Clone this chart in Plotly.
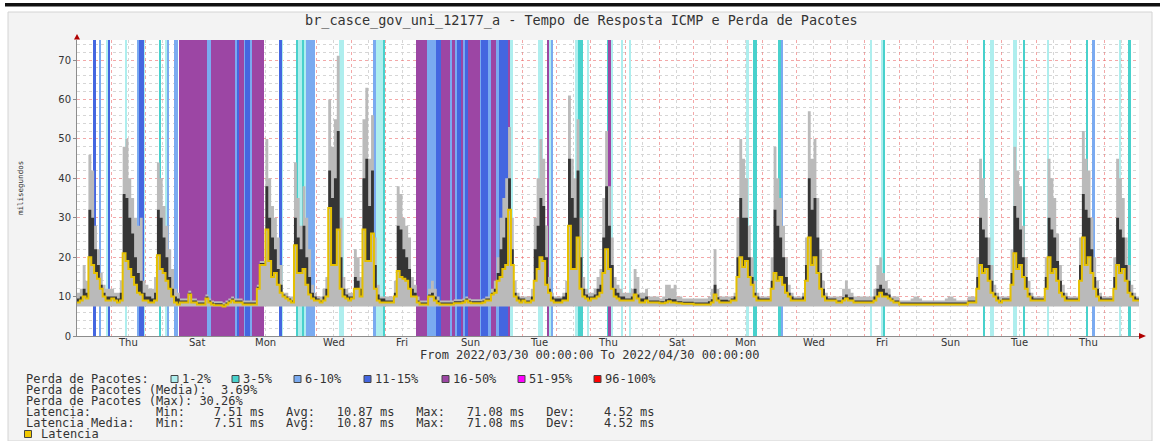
import plotly.graph_objects as go
import pandas as pd

START = pd.Timestamp("2022-03-30 00:00:00")
END = pd.Timestamp("2022-04-30 00:00:00")
STEP_H = 2
PING_MIN = 7.51
Y_TOP = 75.1

# median latency (ms), 2-hour steps, one line per day (Mar 30 .. Apr 29)
latency_median = [
    8.5, 9, 10, 9.5, 20, 18, 16, 14.5, 12, 10, 9, 9,
    9.5, 9, 8.5, 9, 21, 19, 17, 15, 13, 11, 10.5, 9,
    9, 8.5, 8.5, 9, 20.5, 17, 16, 14, 12, 10, 8.5, 8,
    8.5, 8.5, 8.5, 10.5, 8.5, 8.5, 8, 8, 8, 9.5, 8.5, 8,
    7.8, 7.8, 7.8, 7.5, 8, 8.5, 9, 8.5, 8.5, 8.5, 8, 8,
    8, 8, 8, 12, 18, 18, 27, 19, 15, 16, 13, 11,
    10, 9.5, 9, 8.5, 23, 16, 16, 17, 13, 10.5, 9.5, 9,
    9, 8.5, 9, 10, 32.5, 18, 18, 27, 12, 10, 9.5, 9,
    9.5, 12, 12, 10, 27, 19, 19, 26, 12, 9, 8.5, 8.5,
    8.5, 8.5, 8.5, 10, 16.5, 15, 14.5, 14, 12, 10, 10, 8.5,
    8, 8, 8, 10, 10, 9, 8.3, 8, 8, 8, 8, 8,
    8.3, 8.3, 8.3, 8.5, 9, 8.5, 8.3, 8.3, 8.3, 8.3, 8.5, 9,
    9, 10.5, 11, 14, 15, 17, 18, 32, 18, 10, 9, 8.5,
    9, 8.5, 8.5, 9, 14, 17, 20, 19, 13, 11, 9, 8.5,
    8.5, 8.5, 9, 9, 28, 17, 17, 25, 12, 10, 9.5, 9,
    9.5, 9.5, 10, 11, 16, 22, 17, 12, 10, 9.5, 9, 9,
    9, 9, 9, 10.5, 9.5, 8.5, 8.5, 9, 8.5, 8.5, 8.5, 8.5,
    8.3, 8.3, 8.5, 8.8, 8.5, 8.5, 8.3, 8.3, 8.2, 8.2, 8.2, 8.2,
    8, 8, 8, 8, 8, 8, 8.5, 10.5, 9, 8.5, 8.5, 8.5,
    8.5, 9, 9, 15, 20, 17.5, 19, 15, 13, 10, 9, 9,
    9, 9, 9, 12, 16, 14, 15, 13, 11, 10, 9, 9,
    9, 9, 9, 14, 25, 18, 20, 16, 12, 10, 9, 9,
    9, 9, 8.5, 8.5, 9, 9.5, 9, 9, 8.5, 8.5, 8.5, 8.5,
    8.5, 8.5, 8.5, 9, 10, 11, 10, 10, 9.5, 9, 8.5, 8.5,
    8, 8, 8, 8, 8, 8, 8, 8, 8, 8, 8, 8,
    8, 8, 8, 8, 8, 8, 8, 8, 8, 8, 8, 8,
    8.5, 8.5, 8.5, 12, 18, 16, 17, 14, 11, 10, 9, 8.5,
    9, 9, 9, 13, 21, 17, 18, 15, 12, 10, 9, 9,
    9, 9, 9, 12, 20, 16, 17, 14, 11, 10, 9, 9,
    9, 9, 9, 14, 25, 18, 20, 16, 12, 10, 9, 9,
    9, 9, 9, 12, 18, 16, 17, 14, 11, 10, 9, 9,
]

# top of the smoke (highest ping in each step)
smoke_max = [
    11, 12, 18, 14, 46, 42, 28, 22, 16, 13, 12, 12,
    12, 11, 11, 14, 48, 50, 40, 35, 30, 28, 30, 14,
    13, 12, 12, 15, 44, 40, 33, 28, 22, 17, 12, 11,
    9.5, 9.5, 9.5, 11.5, 9.5, 9.5, 9, 9, 9, 10.5, 9.5, 9,
    8.8, 8.8, 8.8, 8.5, 9, 9.5, 10, 9.5, 9.5, 9.5, 9, 9,
    9, 9, 9, 13, 19, 19, 50, 40, 33, 30, 25, 18,
    11, 11, 10, 10, 44, 35, 28, 38, 30, 22, 13, 11,
    10, 10, 12, 15, 60, 48, 55, 71.08, 30, 15, 12, 11,
    11, 22, 20, 15, 55, 63, 45, 56, 25, 13, 10, 10,
    10, 10, 10, 14, 38, 36, 30, 28, 25, 15, 13, 10,
    9, 9, 9, 12, 14, 12, 10, 9, 9, 9, 9, 9,
    9.3, 9.3, 9.3, 9.5, 10, 9.5, 9.3, 9.3, 9.3, 9.3, 9.5, 10,
    10, 12, 14, 20, 30, 35, 40, 53, 30, 14, 11, 10,
    10, 10, 10, 12, 30, 40, 50, 45, 28, 15, 11, 10,
    10, 10, 11, 14, 61, 45, 40, 55, 30, 15, 12, 11,
    11, 12, 15, 17, 35, 52, 38, 25, 15, 13, 12, 11,
    11, 11, 12, 17, 15, 11, 11, 12, 10, 10, 10, 10,
    9.5, 10, 13, 13, 12, 13, 10, 10, 9.5, 9.5, 9.5, 9.5,
    9.5, 9.5, 9.5, 9.5, 9.5, 10, 12, 22, 12, 10, 10, 10,
    10, 10, 11, 30, 50, 45, 40, 28, 20, 14, 11, 10,
    10, 10, 10, 20, 48, 40, 35, 28, 20, 13, 11, 10,
    10, 10, 11, 25, 57, 45, 50, 35, 22, 14, 11, 10,
    10, 10, 10, 10, 12, 14, 12, 11, 10, 10, 10, 10,
    10, 10, 10, 12, 18, 20, 16, 14, 12, 10, 10, 10,
    9, 9, 9, 9, 9.5, 10, 10, 9.5, 9, 9, 9, 9,
    9, 9, 9, 9, 9.5, 10, 10, 9.5, 9, 9, 9, 9,
    10, 10, 10, 20, 45, 40, 35, 25, 18, 13, 11, 10,
    10, 10, 10, 22, 48, 42, 38, 28, 20, 14, 11, 10,
    10, 10, 10, 20, 45, 40, 35, 26, 18, 13, 11, 10,
    10, 10, 10, 25, 52, 45, 42, 30, 20, 14, 11, 10,
    10, 10, 10, 20, 45, 40, 35, 25, 18, 13, 11, 10,
]

# top of the dense (dark) part of the smoke
smoke_core = [
    9.5, 10, 12, 11, 32, 30, 22, 18, 13, 11, 10, 10,
    10, 10, 9.5, 11, 36, 35, 30, 26, 20, 16, 14, 11,
    10, 10, 9.5, 11, 32, 30, 25, 20, 15, 12, 10, 9.5,
    9, 9, 9, 11, 9, 9, 8.5, 8.5, 8.5, 10, 9, 8.5,
    8.3, 8.3, 8.3, 8, 8.5, 9, 9.5, 9, 9, 9, 8.5, 8.5,
    8.5, 8.5, 8.5, 12.5, 18.5, 18.5, 38, 30, 25, 22, 17, 13,
    10.5, 10, 9.5, 9, 30, 25, 22, 28, 20, 15, 11, 10,
    9.5, 9, 10, 12, 42, 35, 40, 52, 20, 12, 10.5, 10,
    10, 15, 14, 12, 40, 45, 33, 42, 18, 10.5, 9.5, 9.5,
    9, 9, 9, 11, 28, 27, 22, 20, 17, 12, 11, 9,
    8.5, 8.5, 8.5, 10.5, 11, 10, 9, 8.5, 8.5, 8.5, 8.5, 8.5,
    8.8, 8.8, 8.8, 9, 9.5, 9, 8.8, 8.8, 8.8, 8.8, 9, 9.5,
    9.5, 11, 12, 16, 22, 25, 30, 40, 22, 11, 10, 9.5,
    9.5, 9, 9, 10, 22, 28, 35, 33, 20, 12, 10, 9.5,
    9.5, 9.5, 10, 11, 45, 35, 30, 42, 20, 12, 10.5, 10,
    10, 10.5, 12, 13, 25, 38, 28, 18, 12, 11, 10, 10,
    9.5, 9.5, 10, 12, 10.5, 9.5, 9.5, 10, 9, 9, 9, 9,
    8.8, 8.8, 9.3, 9.5, 9.3, 9.3, 8.8, 8.8, 8.7, 8.7, 8.7, 8.7,
    8.5, 8.5, 8.5, 8.5, 8.5, 8.8, 9.3, 13, 9.8, 9.2, 9.2, 9.2,
    9, 9.5, 10, 20, 35, 30, 30, 20, 15, 11, 10, 9.5,
    9.5, 9.5, 9.5, 14, 32, 28, 25, 20, 15, 11, 10, 9.5,
    9.5, 9.5, 10, 18, 40, 32, 35, 25, 16, 12, 10, 9.5,
    9.5, 9.5, 9, 9, 9.8, 10.5, 9.8, 9.8, 9, 9, 9, 9,
    9, 9, 9, 10, 12, 13, 12, 11, 10.5, 9.5, 9, 9,
    8.5, 8.5, 8.5, 8.5, 8.5, 8.5, 8.5, 8.5, 8.5, 8.5, 8.5, 8.5,
    8.5, 8.5, 8.5, 8.5, 8.5, 8.5, 8.5, 8.5, 8.5, 8.5, 8.5, 8.5,
    9, 9, 9, 15, 30, 27, 25, 18, 14, 11, 10, 9,
    9.5, 9.5, 9.5, 16, 33, 30, 27, 20, 15, 11, 10, 9.5,
    9.5, 9.5, 9.5, 15, 30, 27, 25, 19, 14, 11, 10, 9.5,
    9.5, 9.5, 9.5, 18, 36, 32, 30, 22, 15, 12, 10, 9.5,
    9.5, 9.5, 9.5, 15, 30, 27, 25, 18, 14, 11, 10, 9.5,
]

# packet-loss periods: (start hour, end hour) counted from START
loss_1_2 = [(21.0, 22.0), (33.6, 35.2), (46.9, 47.6), (61.7, 62.9), (143.4, 144.3),
            (155.1, 157.4), (159.1, 160.5), (183.4, 187.1), (209.7, 214.4),
            (303.5, 305.6), (323.2, 326.7), (330.9, 332.2), (349.2, 350.9),
            (357.6, 359.0), (374.0, 375.8), (381.0, 382.8), (386.6, 388.4),
            (469.0, 470.7), (555.2, 557.1), (563.6, 564.8), (639.7, 642.5),
            (655.4, 658.4), (679.2, 680.9), (729.7, 731.3)]
loss_3_5 = [(57.7, 59.1), (153.4, 155.1), (157.4, 159.1), (214.4, 215.6),
            (350.9, 354.8), (371.2, 372.6), (473.5, 476.5), (491.2, 493.5),
            (564.8, 566.4), (635.0, 636.2), (663.1, 664.3), (707.0, 708.4),
            (736.9, 738.3)]
loss_6_10 = [(15.2, 16.8), (41.8, 43.7), (62.9, 64.7), (68.0, 71.0), (90.9, 93.7),
             (110.7, 112.3), (117.2, 117.7), (121.2, 122.4), (160.5, 167.0),
             (207.4, 209.7), (245.5, 251.8), (261.2, 262.8), (264.7, 266.4),
             (268.8, 269.3), (270.5, 271.7), (282.2, 283.3), (288.0, 290.3),
             (293.8, 295.5), (332.2, 333.7), (493.5, 494.7), (711.4, 713.1)]
loss_11_15 = [(11.4, 13.3), (21.5, 23.1), (43.7, 46.9), (112.3, 113.7), (117.7, 121.2),
              (141.3, 143.4), (251.8, 255.3), (266.4, 268.8), (271.7, 274.0),
              (283.3, 288.0), (295.5, 302.0)]
loss_16_50 = [(71.7, 90.9), (93.7, 110.7), (113.7, 117.2), (122.4, 131.0),
              (237.7, 245.5), (255.3, 261.2), (262.8, 264.7), (269.3, 270.5),
              (274.0, 282.2), (290.3, 293.8), (302.0, 303.5), (329.1, 330.9),
              (372.6, 374.0)]

loss_categories = ["1-2%", "3-5%", "6-10%", "11-15%", "16-50%", "51-95%", "96-100%"]
loss_colors = ["#aeeeee", "#48d1cc", "#7aaaf0", "#4466e0", "#9c46a4", "#ff00ff", "#ff0000"]
loss_periods = [loss_1_2, loss_3_5, loss_6_10, loss_11_15, loss_16_50, [], []]

day_labels = ["Thu", "Sat", "Mon", "Wed", "Fri", "Sun", "Tue", "Thu",
              "Sat", "Mon", "Wed", "Fri", "Sun", "Tue", "Thu"]
day_label_offsets = [1, 3, 5, 7, 9, 11, 13, 15, 17, 19, 21, 23, 25, 27, 29]

stats_labels = ["Min:", "Avg:", "Max:", "Dev:"]
stats_latencia = [7.51, 10.87, 71.08, 4.52]
stats_latencia_media = [7.51, 10.87, 71.08, 4.52]
loss_mean = 3.69
loss_max = 30.26

# ---------------------------------------------------------------
W, H = 1160, 441
L, R, T, B = 77, 21, 40, 105
PW, PH = W - L - R, H - T - B
NB = "\u00a0"

def px(x):
    return (x - L) / PW

def py(y):
    return (H - B - y) / PH

times = [START + pd.Timedelta(hours=STEP_H * i) for i in range(len(latency_median))] + [END]

def ext(a):
    return list(a) + [a[-1]]

fig = go.Figure()

# loss bands
for cat, color, periods in zip(loss_categories, loss_colors, loss_periods):
    if not periods:
        continue
    xs = [START + pd.Timedelta(hours=(s + e) / 2) for s, e in periods]
    ws = [(e - s) * 3600 * 1000 for s, e in periods]
    fig.add_trace(go.Bar(x=xs, y=[Y_TOP] * len(xs), width=ws, base=0,
                         marker=dict(color=color, line=dict(width=0)),
                         name=cat, hoverinfo="skip"))

# smoke
fig.add_trace(go.Scatter(x=times, y=ext([PING_MIN] * len(latency_median)), mode="lines",
                         line=dict(width=0, shape="hv"), hoverinfo="skip"))
fig.add_trace(go.Scatter(x=times, y=ext(smoke_max), mode="lines", fill="tonexty",
                         fillcolor="#bababa", line=dict(width=0, shape="hv"), hoverinfo="skip"))
fig.add_trace(go.Scatter(x=times, y=ext(latency_median), mode="lines",
                         line=dict(width=0, shape="hv"), hoverinfo="skip"))
fig.add_trace(go.Scatter(x=times, y=ext(smoke_core), mode="lines", fill="tonexty",
                         fillcolor="#353535", line=dict(width=0, shape="hv"), hoverinfo="skip"))
# median
fig.add_trace(go.Scatter(x=times, y=ext(latency_median), mode="lines", name="Latencia",
                         line=dict(color="#e5c000", width=2, shape="hv")))

mono = "DejaVu Sans Mono"
sans = "DejaVu Sans"
txt = "#333333"

shapes = [
    dict(type="rect", xref="paper", yref="paper", x0=px(5), x1=px(1160), y0=py(3), y1=py(6.5),
         fillcolor="#111111", line=dict(width=0), layer="below"),
    dict(type="rect", xref="paper", yref="paper", x0=px(8), x1=px(1152), y0=py(441), y1=py(12),
         fillcolor="#f3f3f3", line=dict(color="#d4d4d4", width=1), layer="below"),
    dict(type="rect", xref="paper", yref="paper", x0=0, x1=1, y0=0, y1=1,
         fillcolor="#ffffff", line=dict(width=0), layer="below"),
    dict(type="path", xref="paper", yref="paper",
         path=f"M {px(74)} {py(39.5)} L {px(80)} {py(39.5)} L {px(77)} {py(34)} Z",
         fillcolor="#b00000", line=dict(width=0)),
    dict(type="path", xref="paper", yref="paper",
         path=f"M {px(1139)} {py(333)} L {px(1139)} {py(339)} L {px(1146)} {py(336)} Z",
         fillcolor="#b00000", line=dict(width=0)),
]

ann = []
ann.append(dict(text="br_casce_gov_uni_12177_a - Tempo de Resposta ICMP e Perda de Pacotes",
                x=px(581), y=py(21), xref="paper", yref="paper", showarrow=False,
                xanchor="center", yanchor="middle", font=dict(family=mono, size=13.5, color=txt)))
ann.append(dict(text="milisegundos", x=px(20), y=py(188), xref="paper", yref="paper",
                showarrow=False, textangle=-90, xanchor="center", yanchor="middle",
                font=dict(family=mono, size=7.5, color=txt)))
ann.append(dict(text="From 2022/03/30 00:00:00 To 2022/04/30 00:00:00",
                x=px(590), y=py(355), xref="paper", yref="paper", showarrow=False,
                xanchor="center", yanchor="middle", font=dict(family=mono, size=12, color=txt)))
for lab, off in zip(day_labels, day_label_offsets):
    ann.append(dict(text=lab, x=START + pd.Timedelta(hours=24 * off + 12), y=py(342.5),
                    xref="x", yref="paper", showarrow=False, xanchor="center",
                    yanchor="middle", font=dict(family=sans, size=10, color=txt)))

def label(t, x, y, size=12):
    ann.append(dict(text=t.replace(" ", NB), x=px(x), y=py(y), xref="paper", yref="paper",
                    showarrow=False, xanchor="left", yanchor="middle", borderpad=0,
                    font=dict(family=mono, size=size, color=txt)))

def swatch(x, y, color):
    shapes.append(dict(type="rect", xref="paper", yref="paper", x0=px(x), x1=px(x + 7),
                       y0=py(y + 3.5), y1=py(y - 3.5), fillcolor=color,
                       line=dict(color="#444444", width=1)))

def stats_line(name, vals):
    s = name.ljust(18)
    parts = []
    for lab, v in zip(stats_labels, vals):
        parts.append(lab + ("%.2f" % v).rjust(8) + " ms")
    return s + "   ".join(parts)

y1, y2, y3, y4, y5, y6 = 379, 390, 401, 412, 423, 434
label("Perda de Pacotes:", 25, y1)
sw_x = [171, 232, 294, 364, 442, 518, 594]
for cat, color, xx in zip(loss_categories, loss_colors, sw_x):
    swatch(xx, y1, color)
    label(cat, xx + 10, y1)
label("Perda de Pacotes (Media): " + ("%.2f%%" % loss_mean).rjust(6), 25, y2)
label("Perda de Pacotes (Max): " + ("%.2f%%" % loss_max).rjust(6), 25, y3)
label(stats_line("Latencia:", stats_latencia), 25, y4)
label(stats_line("Latencia Media:", stats_latencia_media), 25, y5)
swatch(24.5, y6, "#f0c800")
label("Latencia", 40, y6)

fig.update_layout(
    width=W, height=H, margin=dict(l=L, r=R, t=T, b=B, pad=0),
    paper_bgcolor="#ffffff", plot_bgcolor="rgba(0,0,0,0)",
    showlegend=False, barmode="overlay", bargap=0,
    shapes=shapes, annotations=ann,
    xaxis=dict(type="date", range=[START, END], tickmode="linear", tick0=START,
               dtick=86400000, showticklabels=False, ticks="",
               showgrid=True, gridcolor="rgba(235,110,110,0.6)", griddash="dot", gridwidth=1,
               minor=dict(dtick=43200000, showgrid=True, gridcolor="#d6d6d6", griddash="dot"),
               showline=True, linecolor="#8c8c8c", linewidth=1, zeroline=False, fixedrange=True),
    yaxis=dict(range=[0, Y_TOP], tickmode="linear", tick0=0, dtick=10,
               showgrid=True, gridcolor="rgba(235,110,110,0.6)", griddash="dot", gridwidth=1,
               minor=dict(dtick=2, showgrid=True, gridcolor="#d6d6d6", griddash="dot"),
               ticks="outside", ticklen=3, tickcolor="#8c8c8c",
               tickfont=dict(family=sans, size=10, color=txt),
               showline=True, linecolor="#8c8c8c", linewidth=1, zeroline=False, fixedrange=True),
)

fig.write_html("out.html", config={"displayModeBar": False},
               post_script="document.body.style.margin='0';document.body.style.padding='0';"
                           "document.body.style.overflow='hidden';")
